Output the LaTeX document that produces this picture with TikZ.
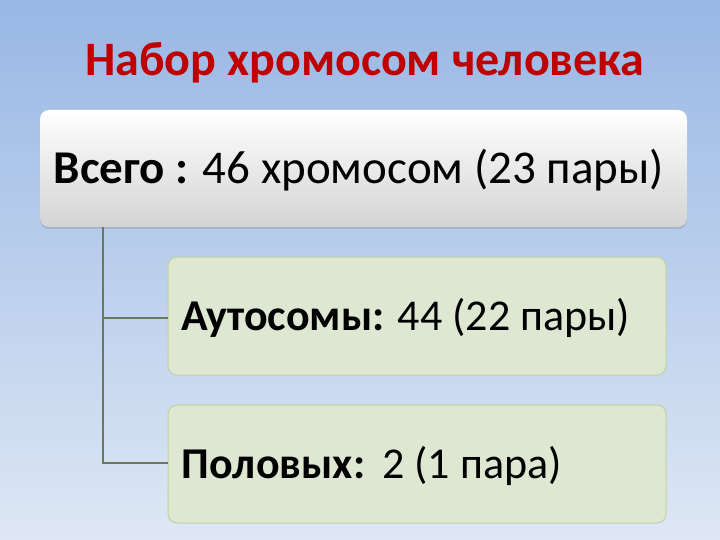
\documentclass[tikz,border=0pt]{standalone}
\usepackage{fontspec}
\setmainfont{Carlito}
\usetikzlibrary{shadows}
\definecolor{bgtop}{RGB}{152,183,229}
\definecolor{bgbot}{RGB}{222,231,244}
\definecolor{titlered}{RGB}{192,0,0}
\definecolor{greenfill}{RGB}{222,231,210}
\definecolor{greenline}{RGB}{190,210,160}
\definecolor{connline}{RGB}{105,120,95}
\tikzset{
  topbox/.style={rounded corners=9pt, top color=white, bottom color=black!17,
    draw=none, drop shadow={shadow xshift=0pt, shadow yshift=-2pt, opacity=0.3}},
  childbox/.style={rounded corners=9pt, fill=greenfill, draw=greenline, line width=1pt},
  conn/.style={draw=connline, line width=1.2pt},
}
\begin{document}
\begin{tikzpicture}[x=1pt,y=-1pt]
\shade[top color=bgtop, bottom color=bgbot] (0,0) rectangle (720,540);
\useasboundingbox (0,0) rectangle (720,540);
\node[font=\fontsize{48}{56}\selectfont\bfseries, text=titlered] (title) at (365,63) {Набор хромосом человека};
\path[topbox] (40,110) rectangle (687,227);
\coordinate (top) at (359,170);
\node[font=\fontsize{47}{54}\selectfont, anchor=center] (toptext) at (top) {\textbf{Всего :} 46 хромосом (23 пары)};
\path[childbox] (168,257) rectangle (666,375);
\path[childbox] (168,405) rectangle (666,523);
\node[font=\fontsize{44}{50}\selectfont, anchor=west] (a) at (178,318) {\textbf{Аутосомы:} 44 (22 пары)};
\node[font=\fontsize{44}{50}\selectfont, anchor=west] (b) at (178,466) {\textbf{Половых:}\hspace{4pt} 2 (1 пара)};
\coordinate (c0) at (103,227);
\coordinate (c1) at (103,318);
\coordinate (c2) at (103,463);
\coordinate (e1) at (168,318);
\coordinate (e2) at (168,463);
\draw[conn] (c0) -- (c2) -- (e2);
\draw[conn] (c1) -- (e1);
\end{tikzpicture}
\end{document}
